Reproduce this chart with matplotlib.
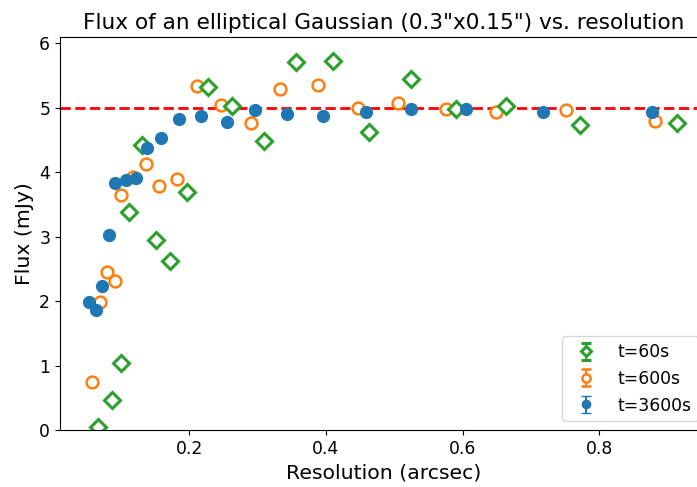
import matplotlib
matplotlib.use("Agg")
import matplotlib.pyplot as plt
import numpy as np

# t=60s
res_60 = [0.0659, 0.0868, 0.1005, 0.111, 0.130, 0.1508, 0.1713, 0.197, 0.2278, 0.263,
          0.310, 0.3558, 0.410, 0.4636, 0.524, 0.590, 0.664, 0.7725, 0.9145]
flux_60 = [0.04, 0.47, 1.04, 3.39, 4.43, 2.95, 2.63, 3.70, 5.32, 5.03,
           4.48, 5.71, 5.73, 4.63, 5.45, 4.98, 5.03, 4.74, 4.77]

# t=600s
res_600 = [0.058, 0.069, 0.080, 0.0917, 0.1005, 0.118, 0.136, 0.1556, 0.1825, 0.2117,
           0.247, 0.290, 0.333, 0.389, 0.4466, 0.506, 0.576, 0.6495, 0.7515, 0.882]
flux_600 = [0.75, 1.98, 2.45, 2.32, 3.65, 3.93, 4.13, 3.79, 3.89, 5.34,
            5.05, 4.76, 5.30, 5.35, 5.00, 5.07, 4.99, 4.93, 4.97, 4.79]

# t=3600s
res_3600 = [0.0536, 0.0634, 0.0722, 0.0829, 0.0912, 0.107, 0.122, 0.1376, 0.1586, 0.1854,
            0.2167, 0.2552, 0.2957, 0.343, 0.396, 0.458, 0.524, 0.6056, 0.718, 0.877]
flux_3600 = [1.98, 1.87, 2.23, 3.03, 3.84, 3.88, 3.91, 4.37, 4.54, 4.82,
             4.87, 4.78, 4.97, 4.90, 4.87, 4.93, 4.98, 4.99, 4.94, 4.93]

true_flux = 5.0

fig = plt.figure(figsize=(6.97, 4.87), dpi=100)
# the reference is cropped on the right: the axes run slightly past the image edge
ax = fig.add_axes([0.086, 0.117, 0.928, 0.807])

green = '#2ca02c'
orange = '#ff7f0e'
blue = '#1f77b4'

ax.axhline(true_flux, color='red', ls='--', lw=2, zorder=1)

h600 = ax.errorbar(res_600, flux_600, yerr=np.zeros(len(res_600)), fmt='o', ms=8.5,
                   mfc='white', mec=orange, mew=1.8, ecolor=orange, capsize=3.5,
                   label='t=600s')
h60 = ax.errorbar(res_60, flux_60, yerr=np.zeros(len(res_60)), fmt='D', ms=8,
                  mfc='white', mec=green, mew=2.2, ecolor=green, capsize=3.5,
                  label='t=60s')
h3600 = ax.errorbar(res_3600, flux_3600, yerr=np.zeros(len(res_3600)), fmt='o', ms=8.5,
                    color=blue, ecolor=blue, capsize=3.5, label='t=3600s')

ax.set_xlim(0.0106, 0.9575)
ax.set_ylim(0, 6.1)
ax.set_xticks([0.2, 0.4, 0.6, 0.8])
ax.set_yticks([0, 1, 2, 3, 4, 5, 6])
ax.tick_params(labelsize=12.4)
ax.set_xlabel('Resolution (arcsec)', fontsize=14.7)
ax.set_ylabel('Flux (mJy)', fontsize=14.7)
ax.set_title('Flux of an elliptical Gaussian (0.3"x0.15") vs. resolution', fontsize=15.6)
ax.legend([h60, h600, h3600], ['t=60s', 't=600s', 't=3600s'],
          loc='lower right', fontsize=12.4, markerscale=0.7)

fig.savefig('out.png', dpi=100)
